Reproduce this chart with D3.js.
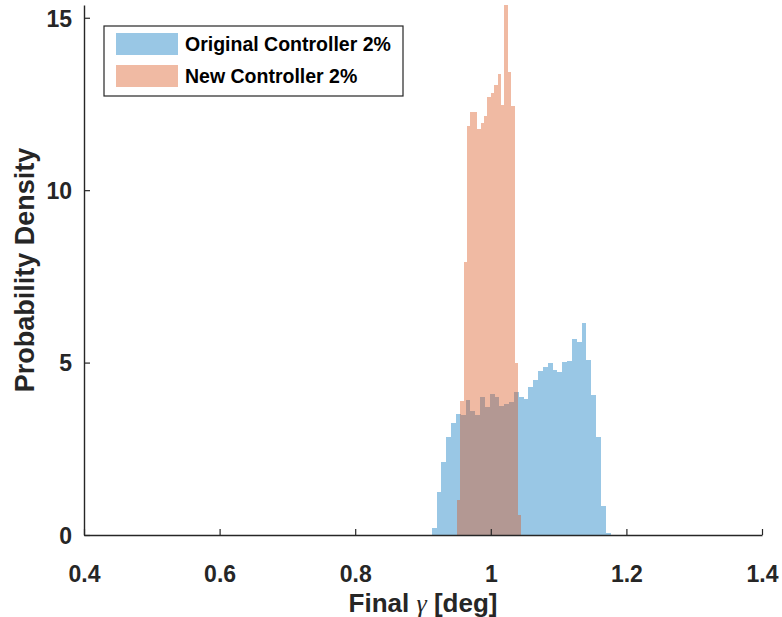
<!DOCTYPE html>
<html>
<head>
<meta charset="utf-8">
<script src="https://cdn.jsdelivr.net/npm/d3@7"></script>
<style>
  body { margin: 0; background: #fff; }
  svg { display: block; font-family: "Liberation Sans", Arial, sans-serif; }
</style>
</head>
<body>
<svg id="chart" width="782" height="617"></svg>
<script>
// histogram bins (pdf normalisation)
const originalBinStart = 0.9128;
const originalBinWidth = 0.00713;
const originalDensity = [
  0.19, 1.24, 2.11, 2.84, 3.24, 3.52, 3.48, 3.92, 3.60, 3.48,
  4.01, 3.70, 4.09, 4.01, 3.74, 3.79, 3.87, 4.16, 4.01, 3.94,
  4.28, 4.50, 4.75, 4.86, 4.99, 4.78, 4.74, 5.01, 5.06, 5.67,
  5.61, 6.16, 5.08, 4.07, 2.83, 0.83, 0.06
];

const newBinStart = 0.95;
const newBinWidth = 0.005;
const newDensity = [
  1.01, 3.90, 7.91, 11.87, 12.28, 12.28, 11.78, 11.96, 12.14, 12.69,
  12.82, 13.05, 13.37, 12.47, 15.37, 13.42, 12.43, 4.98, 0.57
];

const seriesNames = ["Original Controller 2%", "New Controller 2%"];
const xTicks = [0.4, 0.6, 0.8, 1, 1.2, 1.4];
const yTicks = [0, 5, 10, 15];

const svg = d3.select("#chart");
const width = +svg.attr("width");
const height = +svg.attr("height");
const margin = { top: 5, right: 20, bottom: 82, left: 84 };
const plotWidth = width - margin.left - margin.right;
const plotHeight = height - margin.top - margin.bottom;

const g = svg.append("g")
  .attr("transform", `translate(${margin.left},${margin.top})`);

const x = d3.scaleLinear().domain([0.4, 1.4]).range([0, plotWidth]);
const y = d3.scaleLinear().domain([0, d3.max(newDensity)]).range([plotHeight, 0]);

// MATLAB default colours, FaceAlpha 0.4
const colors = ["rgb(0,114,189)", "rgb(217,83,25)"];

const series = [
  { name: seriesNames[0], start: originalBinStart, w: originalBinWidth, values: originalDensity },
  { name: seriesNames[1], start: newBinStart, w: newBinWidth, values: newDensity }
];

series.forEach((s, si) => {
  const bins = s.values.map((v, i) => ({
    x0: s.start + i * s.w,
    x1: s.start + (i + 1) * s.w,
    v
  }));
  g.append("g")
    .attr("fill", colors[si])
    .attr("fill-opacity", 0.4)
    .selectAll("rect")
    .data(bins)
    .join("rect")
    .attr("shape-rendering", "crispEdges")
    .attr("x", d => x(d.x0))
    .attr("width", d => x(d.x1) - x(d.x0))
    .attr("y", d => y(d.v))
    .attr("height", d => y(0) - y(d.v));
});

const axisColor = "#262626";

// Axes, ticks pointing inward
const xAxis = g.append("g")
  .attr("transform", `translate(0,${plotHeight})`)
  .call(d3.axisBottom(x).tickValues(xTicks).tickSizeInner(-6).tickSizeOuter(0)
    .tickPadding(31).tickFormat(d3.format("~g")));

const yAxis = g.append("g")
  .call(d3.axisLeft(y).tickValues(yTicks).tickSizeInner(-6).tickSizeOuter(0)
    .tickPadding(12));

[xAxis, yAxis].forEach(a => {
  a.select(".domain").attr("stroke", axisColor).attr("stroke-width", 1.4);
  a.selectAll(".tick line").attr("stroke", axisColor).attr("stroke-width", 1.2);
  a.selectAll(".tick text")
    .attr("fill", axisColor)
    .attr("font-size", "23px")
    .attr("font-weight", "bold");
});
xAxis.selectAll(".tick text").attr("dy", "0.71em");
yAxis.selectAll(".tick text").attr("dy", "0.36em");

// Axis labels
const xLabel = g.append("text")
  .attr("x", plotWidth / 2)
  .attr("y", plotHeight + 77)
  .attr("text-anchor", "middle")
  .attr("font-size", "26px")
  .attr("font-weight", "bold")
  .attr("fill", axisColor);
xLabel.append("tspan").text("Final ");
xLabel.append("tspan")
  .attr("font-family", "'Liberation Serif', 'Times New Roman', serif")
  .attr("font-style", "italic")
  .attr("font-weight", "normal")
  .text("γ");
xLabel.append("tspan").text(" [deg]");

g.append("text")
  .attr("transform", `translate(${-50},${plotHeight / 2}) rotate(-90)`)
  .attr("text-anchor", "middle")
  .attr("font-size", "27px")
  .attr("font-weight", "bold")
  .attr("fill", axisColor)
  .text("Probability Density");

// Legend
const legend = g.append("g").attr("transform", "translate(20,21)");
legend.append("rect")
  .attr("width", 299)
  .attr("height", 70)
  .attr("fill", "#fff")
  .attr("stroke", axisColor)
  .attr("stroke-width", 1.2);

const item = legend.selectAll(".item")
  .data(series)
  .join("g")
  .attr("class", "item")
  .attr("transform", (d, i) => `translate(12,${7 + i * 32})`);

item.append("rect")
  .attr("width", 62)
  .attr("height", 22)
  .attr("fill", (d, i) => colors[i])
  .attr("fill-opacity", 0.4);

item.append("text")
  .attr("x", 69)
  .attr("y", 18)
  .attr("font-size", "19.5px")
  .attr("font-weight", "bold")
  .attr("fill", "#000")
  .text(d => d.name);
</script>
</body>
</html>
